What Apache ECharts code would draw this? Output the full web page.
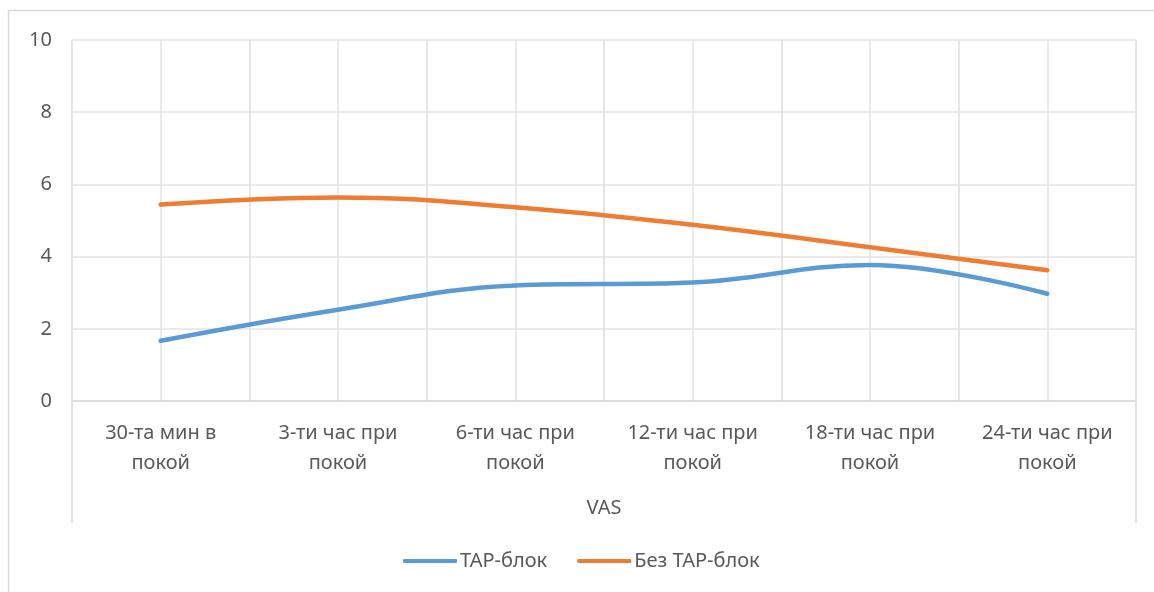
<!DOCTYPE html>
<html>
<head>
<meta charset="utf-8">
<script src="https://cdn.jsdelivr.net/npm/echarts@6/dist/echarts.min.js"></script>
<style>
  html, body { margin: 0; padding: 0; background: #fff; }
  #chart { width: 1154px; height: 592px; }
</style>
</head>
<body>
<div id="chart"></div>
<script>
// Time points after the procedure (pain at rest)
const categories = [
  '30-та мин в\nпокой',
  '3-ти час при\nпокой',
  '6-ти час при\nпокой',
  '12-ти час при\nпокой',
  '18-ти час при\nпокой',
  '24-ти час при\nпокой'
];
// VAS pain scores
const tapBlock = [1.67, 2.53, 3.20, 3.28, 3.77, 2.97];
const noTapBlock = [5.44, 5.64, 5.37, 4.88, 4.26, 3.62];
const seriesNames = ['TAP-блок', 'Без TAP-блок'];
const axisTitle = 'VAS';

const FONT = 'Noto Sans';
const FS = 20;
const TEXT = '#595959';
const GRID = '#e3e3e3';

const gridBox = { left: 72, top: 40, right: 18, bottom: 191 };
const W = 1154, H = 592;

const chart = echarts.init(document.getElementById('chart'), null, { renderer: 'canvas' });

const axisLeft = gridBox.left;
const axisRight = W - gridBox.right;
const axisY = H - gridBox.bottom;

chart.setOption({
  animation: false,
  textStyle: { fontFamily: FONT },
  grid: gridBox,
  legend: {
    data: seriesNames.map(name => ({ name, icon: 'roundRect' })),
    left: 398,
    top: 546,
    itemWidth: 54,
    itemHeight: 4,
    itemGap: 30,
    textStyle: { color: TEXT, fontSize: FS, fontFamily: FONT, padding: [0, 0, 0, -2] }
  },
  xAxis: [
    {
      type: 'category',
      data: categories,
      boundaryGap: true,
      axisLine: { show: true, lineStyle: { color: '#d9d9d9', width: 1.5 } },
      axisTick: { show: false },
      splitLine: { show: true, interval: 0, lineStyle: { color: GRID, width: 1.5 } },
      axisLabel: {
        interval: 0,
        color: TEXT,
        fontSize: FS,
        fontFamily: FONT,
        lineHeight: 30,
        margin: 17
      },
      name: axisTitle,
      nameLocation: 'middle',
      nameGap: 107,
      nameTextStyle: { color: TEXT, fontSize: FS, fontFamily: FONT, verticalAlign: 'middle' }
    },
    {
      // half-step grid: one line through every category centre as well
      type: 'category',
      position: 'top',
      data: new Array(categories.length * 2).fill(''),
      boundaryGap: true,
      axisLine: { show: false },
      axisTick: { show: false },
      axisLabel: { show: false },
      splitLine: { show: true, interval: 0, lineStyle: { color: GRID, width: 1.5 } }
    }
  ],
  yAxis: {
    type: 'value',
    min: 0,
    max: 10,
    interval: 2,
    axisLine: { show: false },
    axisTick: { show: false },
    splitLine: { lineStyle: { color: GRID, width: 1.5 } },
    axisLabel: { color: TEXT, fontSize: FS, fontFamily: FONT, margin: 20 }
  },
  series: [
    {
      name: seriesNames[0],
      type: 'line',
      data: tapBlock,
      smooth: 0.4,
      symbol: 'none',
      lineStyle: { color: '#5b9bd5', width: 4.5, cap: 'round' },
      itemStyle: { color: '#5b9bd5' }
    },
    {
      name: seriesNames[1],
      type: 'line',
      data: noTapBlock,
      smooth: 0.4,
      symbol: 'none',
      lineStyle: { color: '#ed7d31', width: 4.5, cap: 'round' },
      itemStyle: { color: '#ed7d31' }
    }
  ],
  graphic: [
    {
      type: 'rect',
      shape: { x: 8.5, y: 10.5, width: 1300, height: 700 },
      style: { fill: 'none', stroke: '#d9d9d9', lineWidth: 1.5 },
      silent: true
    },
    {
      type: 'line',
      shape: { x1: axisLeft, y1: axisY, x2: axisLeft, y2: 523 },
      style: { stroke: '#d9d9d9', lineWidth: 1.5 },
      silent: true
    },
    {
      type: 'line',
      shape: { x1: axisRight, y1: axisY, x2: axisRight, y2: 523 },
      style: { stroke: '#d9d9d9', lineWidth: 1.5 },
      silent: true
    }
  ]
});
</script>
</body>
</html>
